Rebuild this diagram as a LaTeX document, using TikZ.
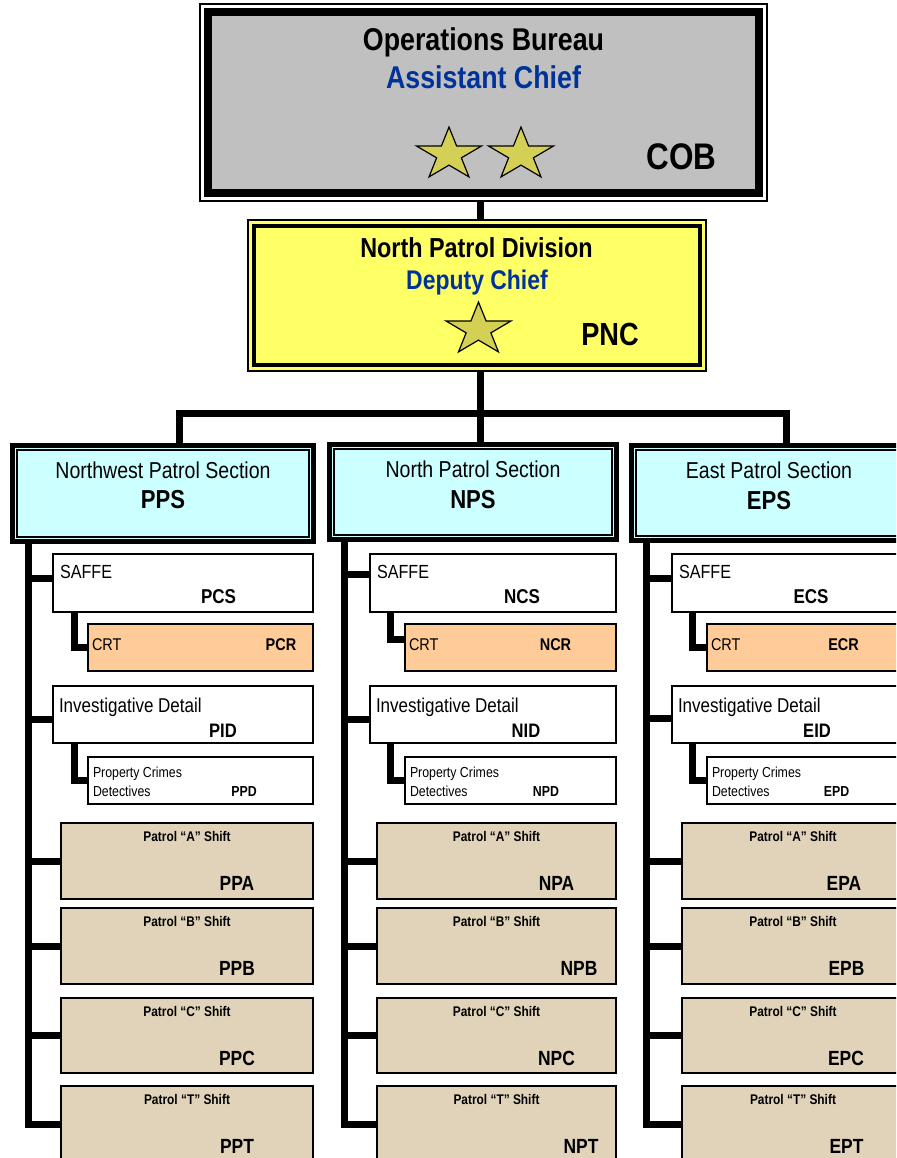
\documentclass[tikz,border=0pt]{standalone}
\usepackage{fontspec}
\setmainfont{Liberation Sans}[FakeStretch=0.85]
\usetikzlibrary{calc}

\definecolor{cobgray}{HTML}{C0C0C0}
\definecolor{pncyellow}{HTML}{FFFF66}
\definecolor{seccyan}{HTML}{CCFFFF}
\definecolor{crtpeach}{HTML}{FFCC99}
\definecolor{shifttan}{HTML}{E1D3B9}
\definecolor{rankblue}{HTML}{003399}
\definecolor{stargold}{HTML}{D4D055}

\newcommand\fs[1]{\fontsize{#1}{#1}\selectfont}

\tikzset{
  plain/.style={rectangle, inner sep=0pt, outer sep=0pt, anchor=north west},
  bus/.style={line width=7pt},
  txt/.style={inner sep=0pt, outer sep=0pt, anchor=base},
  txtl/.style={inner sep=0pt, outer sep=0pt, anchor=base west},
  subbox/.style={plain, draw, line width=1.8pt, fill=white},
  crtbox/.style={subbox, fill=crtpeach},
  shiftbox/.style={subbox, fill=shifttan},
  secouter/.style={plain, draw, line width=5pt, fill=seccyan},
  secinner/.style={plain, draw, line width=1.2pt},
  starpic/.pic={\draw[fill=stargold, line width=1.2pt, yscale=0.81]
    (90:34) -- (126:13) -- (162:34) -- (198:13) -- (234:34) -- (270:13)
    -- (306:34) -- (342:13) -- (18:34) -- (54:13) -- cycle;}
}

% box: name, style, left, top, width, height
\newcommand\mkbox[6]{\node[#2, minimum width=#5pt, minimum height=#6pt] (#1) at (#3,-#4) {};}
% text: name, style, reference anchor, dx, dy, content
\newcommand\mktext[6]{\node[#2] (#1) at ($(#3)+(#4,-#5)$) {#6};}

% one patrol section column: sub-units, shifts and their connectors
\newcommand\drawcolumn{%
  \mkbox{b\cK CS}{subbox}{\cBX}{554}{\cBW}{58}
  \mkbox{b\cK CR}{crtbox}{\cCX}{624}{\cCW}{47}
  \mkbox{b\cK ID}{subbox}{\cBX}{686}{\cBW}{57}
  \mkbox{b\cK PD}{subbox}{\cCX}{757}{\cCW}{47}
  \mkbox{b\cK PA}{shiftbox}{\cPX}{823}{\cPW}{76}
  \mkbox{b\cK PB}{shiftbox}{\cPX}{908}{\cPW}{76}
  \mkbox{b\cK PC}{shiftbox}{\cPX}{998}{\cPW}{75}
  \mkbox{b\cK PT}{shiftbox}{\cPX}{1086}{\cPW}{76}
  % labels
  \mktext{t\cK CS}{txtl}{b\cK CS.north west}{7}{24}{\fs{19}SAFFE}
  \mktext{c\cK CS}{txt}{b\cK CS.north west}{\dCS}{49}{\fs{20}\bfseries\cK CS}
  \mktext{t\cK CR}{txtl}{b\cK CR.north west}{4}{26}{\fs{17}CRT}
  \mktext{c\cK CR}{txt}{b\cK CR.north west}{\dCR}{26}{\fs{17}\bfseries\cK CR}
  \mktext{t\cK ID}{txtl}{b\cK ID.north west}{6}{26}{\fs{20}Investigative Detail}
  \mktext{c\cK ID}{txt}{b\cK ID.north west}{\dID}{51}{\fs{19.5}\bfseries\cK ID}
  \mktext{t\cK PD}{txtl}{b\cK PD.north west}{5}{20}{\fs{14.5}Property Crimes}
  \mktext{u\cK PD}{txtl}{b\cK PD.north west}{5}{39}{\fs{14.5}Detectives}
  \mktext{c\cK PD}{txt}{b\cK PD.north west}{\dPD}{39}{\fs{14.5}\bfseries\cK PD}
  \mktext{t\cK PA}{txt}{b\cK PA.north}{0}{18}{\fs{14}\bfseries Patrol “A” Shift}
  \mktext{c\cK PA}{txt}{b\cK PA.north west}{\dPA}{67}{\fs{20.5}\bfseries\cK PA}
  \mktext{t\cK PB}{txt}{b\cK PB.north}{0}{18}{\fs{14}\bfseries Patrol “B” Shift}
  \mktext{c\cK PB}{txt}{b\cK PB.north west}{\dPB}{67}{\fs{20.5}\bfseries\cK PB}
  \mktext{t\cK PC}{txt}{b\cK PC.north}{0}{18}{\fs{14}\bfseries Patrol “C” Shift}
  \mktext{c\cK PC}{txt}{b\cK PC.north west}{\dPC}{67}{\fs{20.5}\bfseries\cK PC}
  \mktext{t\cK PT}{txt}{b\cK PT.north}{0}{18}{\fs{14}\bfseries Patrol “T” Shift}
  \mktext{c\cK PT}{txt}{b\cK PT.north west}{\dPT}{67}{\fs{20.5}\bfseries\cK PT}
  % connectors
  \coordinate (top\cK) at (\cSX,-541);
  \coordinate (s\cK CS) at ([yshift=\cSy pt]b\cK CS.west);
  \coordinate (s\cK ID) at ([yshift=\cIy pt]b\cK ID.west);
  \coordinate (s\cK CR) at ([yshift=\cRy pt]b\cK CR.west);
  \draw[bus] (top\cK) |- (b\cK PT.west);
  \draw[bus] (s\cK CS) -- (s\cK CS -| top\cK);
  \draw[bus] (s\cK ID) -- (s\cK ID -| top\cK);
  \draw[bus] (b\cK PA.west) -- (b\cK PA.west -| top\cK);
  \draw[bus] (b\cK PB.west) -- (b\cK PB.west -| top\cK);
  \draw[bus] (b\cK PC.west) -- (b\cK PC.west -| top\cK);
  \draw[bus] ([xshift=\cLX pt]b\cK CS.south west) |- (s\cK CR);
  \draw[bus] ([xshift=\cLX pt]b\cK ID.south west) |- (b\cK PD.west);
}

\begin{document}
\begin{tikzpicture}[x=1pt, y=1pt]
\path[use as bounding box] (0,0) rectangle (896,-1158);
\clip (0,0) rectangle (896,-1158);
\fill[white] (0,0) rectangle (896,-1158);

% Operations Bureau
\mkbox{cob}{plain, draw, line width=1.2pt, fill=white}{200}{4}{567}{197}
\mkbox{cobin}{plain, draw, line width=8pt, fill=cobgray}{208}{12}{551}{181}
\node[txt] (cobt) at (483.5,-51) {\fs{31.5}\bfseries Operations Bureau};
\node[txt, text=rankblue] (cobr) at (483.5,-89) {\fs{31.5}\bfseries Assistant Chief};
\node[txt] (cobc) at (681.5,-170) {\fs{37}\bfseries COB};
\pic (cobs1) at (449,-154.6) {starpic};
\pic (cobs2) at (521,-154.6) {starpic};

% North Patrol Division
\mkbox{pnc}{plain, draw, line width=2pt, fill=pncyellow}{248}{220}{458}{151}
\mkbox{pncin}{plain, draw, line width=3.5pt, fill=pncyellow}{254}{226}{446}{139}
\node[txt] (pnct) at (476.5,-258) {\fs{27.5}\bfseries North Patrol Division};
\node[txt, text=rankblue] (pncr) at (477,-289) {\fs{27}\bfseries Deputy Chief};
\node[txt] (pncc) at (610,-345) {\fs{32}\bfseries PNC};
\pic (pncs) at (478.5,-329.6) {starpic};

% section headers
\mkbox{bPPS}{secouter}{12.5}{445.5}{301}{96}
\mkbox{iPPS}{secinner}{17}{450}{292}{87}
\mkbox{bNPS}{secouter}{329.5}{444.5}{287}{95}
\mkbox{iNPS}{secinner}{334}{449}{278}{86}
\mkbox{bEPS}{secouter}{631.5}{445.5}{275}{95}
\mkbox{iEPS}{secinner}{636}{450}{266}{86}
\mktext{tPPS}{txt}{bPPS.north}{0}{33}{\fs{23}Northwest Patrol Section}
\mktext{cPPS}{txt}{bPPS.north}{0}{62.5}{\fs{26}\bfseries PPS}
\mktext{tNPS}{txt}{bNPS.north}{0}{32.5}{\fs{23}North Patrol Section}
\mktext{cNPS}{txt}{bNPS.north}{0}{63.5}{\fs{26}\bfseries NPS}
\mktext{tEPS}{txt}{bEPS.north}{0}{32.5}{\fs{23}East Patrol Section}
\mktext{cEPS}{txt}{bEPS.north}{0}{64}{\fs{26}\bfseries EPS}

% command connectors
\coordinate (hub) at (480,-413);
\coordinate (dropP) at (179,-413);
\coordinate (dropE) at (786.5,-413);
\draw[bus] (cob.south -| hub) -- (pnc.north -| hub);
\draw[bus] (pnc.south -| hub) -- (bNPS.north -| hub);
\draw[bus] (dropP |- bPPS.north) -- (dropP) -- (dropE) -- (dropE |- bEPS.north);

% columns
\def\cK{P}\def\cSX{28.5}\def\cBX{53}\def\cBW{260}\def\cCX{88}\def\cCW{225}
\def\cPX{61}\def\cPW{252}\def\cLX{21}\def\cSy{5}\def\cIy{-4.5}\def\cRy{0}
\def\dCS{165.5}\def\dCR{193}\def\dID{170}\def\dPD{156}
\def\dPA{176}\def\dPB{176}\def\dPC{176}\def\dPT{176}
\drawcolumn

\def\cK{N}\def\cSX{344.5}\def\cBX{370}\def\cBW{246}\def\cCX{405}\def\cCW{211}
\def\cPX{377}\def\cPW{239}\def\cLX{20}\def\cSy{9}\def\cIy{-5}\def\cRy{8}
\def\dCS{152}\def\dCR{150.5}\def\dID{156}\def\dPD{141}
\def\dPA{179.5}\def\dPB{202}\def\dPC{179.5}\def\dPT{204}
\drawcolumn

\def\cK{E}\def\cSX{646.5}\def\cBX{672}\def\cBW{260}\def\cCX{707}\def\cCW{225}
\def\cPX{682}\def\cPW{222}\def\cLX{20}\def\cSy{5}\def\cIy{-3.5}\def\cRy{0}
\def\dCS{139}\def\dCR{136.5}\def\dID{145}\def\dPD{129.5}
\def\dPA{162}\def\dPB{164.5}\def\dPC{164}\def\dPT{164.5}
\drawcolumn
\end{tikzpicture}
\end{document}
